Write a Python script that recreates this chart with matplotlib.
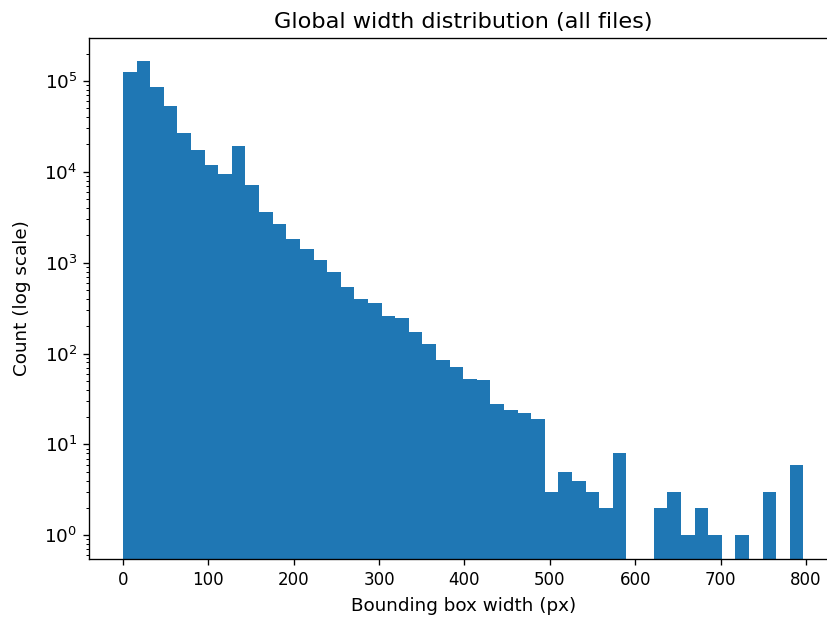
import matplotlib
matplotlib.use("Agg")
import matplotlib.pyplot as plt
import numpy as np

# histogram of bounding box widths, 50 bins from 0 to the max width
max_width = 797
n_bins = 50
counts = [
    124000, 164000, 85000, 52600, 26500, 17600, 11900, 9500, 19400, 7180,
    3620, 2690, 1820, 1430, 1080, 800, 545, 399, 361, 257,
    248, 171, 128, 85, 72, 53, 51, 28, 24, 22,
    19, 3, 5, 4, 3, 2, 8, 0, 0, 2,
    3, 1, 2, 1, 0, 1, 0, 3, 0, 6,
]

edges = np.linspace(0, max_width, n_bins + 1)

fig = plt.figure(figsize=(827 / 120, 618 / 120), dpi=120)
ax = fig.add_axes([0.1076, 0.0955, 0.905, 0.8434])
ax.hist(edges[:-1], bins=edges, weights=counts, log=True, color="#1f77b4")

ax.set_title("Global width distribution (all files)", fontsize=13.4)
ax.set_xlabel("Bounding box width (px)", fontsize=11, labelpad=5)
ax.set_ylabel("Count (log scale)", fontsize=11, labelpad=8)
ax.tick_params(axis="x", which="major", labelsize=10)
ax.tick_params(axis="y", which="major", labelsize=11)

fig.savefig("out.png", dpi=120)
